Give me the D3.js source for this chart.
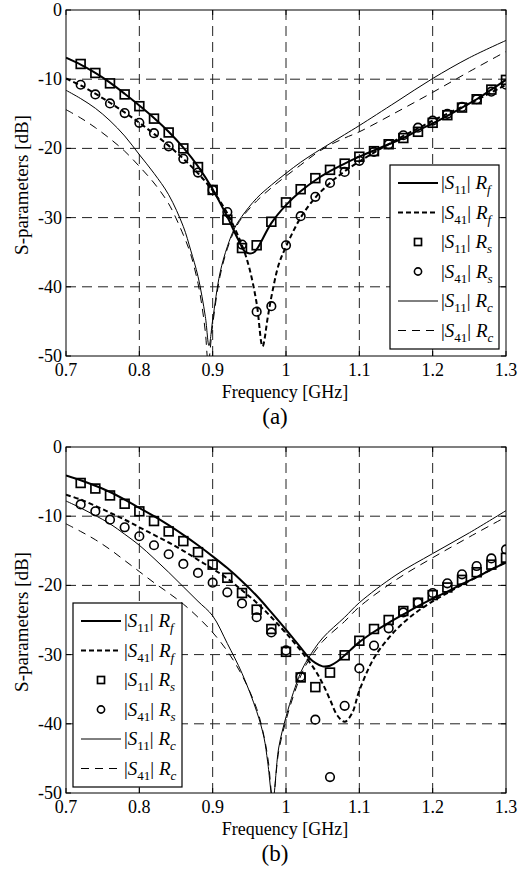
<!DOCTYPE html>
<html>
<head>
<meta charset="utf-8">
<script src="https://cdn.jsdelivr.net/npm/d3@7"></script>
<style>
  body { margin: 0; background: #fff; }
</style>
</head>
<body>
<svg width="523" height="870" font-family="'Liberation Serif', Tinos, 'Times New Roman', 'DejaVu Serif', serif"></svg>
<script>
// measured points (Rs): 0.72 .. 1.30 GHz, step 0.02
const fMeas = [0.72,0.74,0.76,0.78,0.80,0.82,0.84,0.86,0.88,0.90,0.92,0.94,0.96,0.98,1.00,
               1.02,1.04,1.06,1.08,1.10,1.12,1.14,1.16,1.18,1.20,1.22,1.24,1.26,1.28,1.30];

// panel (a)
const sqA = [-7.8,-9.1,-10.6,-12.2,-13.9,-15.7,-17.7,-20.0,-22.7,-26.0,-30.3,-34.4,-34.0,-30.6,-27.8,
             -25.9,-24.3,-23.1,-22.2,-21.2,-20.4,-19.4,-18.5,-17.6,-16.3,-15.2,-14.1,-12.9,-11.5,-10.1];
const ciA = [-10.8,-12.2,-13.5,-14.9,-16.3,-17.8,-19.7,-21.5,-23.5,-26.0,-29.2,-33.9,-43.6,-42.8,-34.0,
             -29.8,-27.0,-25.0,-23.4,-21.8,-20.5,-19.4,-18.1,-17.0,-16.0,-15.0,-14.0,-12.9,-11.8,-10.8];
const rfS11A = [[0.70,-6.9],[0.72,-7.9],[0.74,-9.1],[0.76,-10.5],[0.78,-12.1],[0.80,-13.8],[0.82,-15.6],
  [0.84,-17.6],[0.86,-19.9],[0.88,-22.6],[0.90,-25.9],[0.92,-29.9],[0.935,-33.2],[0.945,-35.0],[0.955,-35.1],
  [0.96,-34.6],[0.98,-30.8],[1.00,-28.2],[1.02,-26.2],[1.04,-24.6],[1.06,-23.3],[1.08,-22.2],[1.10,-21.2],
  [1.12,-20.3],[1.14,-19.4],[1.16,-18.5],[1.18,-17.4],[1.20,-16.4],[1.22,-15.3],[1.24,-14.1],[1.26,-12.9],
  [1.28,-11.5],[1.30,-10.1]];
const rfS41A = [[0.70,-9.9],[0.72,-10.9],[0.74,-12.1],[0.76,-13.4],[0.78,-14.8],[0.80,-16.3],[0.82,-17.9],
  [0.84,-19.6],[0.86,-21.5],[0.88,-23.6],[0.90,-26.1],[0.92,-29.4],[0.94,-34.0],[0.95,-37.3],[0.96,-42.4],
  [0.968,-48.6],[0.975,-44.5],[0.98,-41.5],[0.99,-36.8],[1.00,-34.2],[1.02,-30.0],[1.04,-27.1],[1.06,-25.0],
  [1.08,-23.3],[1.10,-21.9],[1.12,-20.6],[1.14,-19.4],[1.16,-18.2],[1.18,-17.1],[1.20,-16.0],[1.22,-15.0],
  [1.24,-14.0],[1.26,-13.0],[1.28,-11.9],[1.30,-10.8]];
const rcS11A = [[0.70,-11.6],[0.72,-12.8],[0.74,-14.2],[0.76,-16.0],[0.78,-18.2],[0.80,-20.9],[0.82,-23.6],
  [0.84,-26.7],[0.86,-31.3],[0.87,-34.7],[0.88,-38.5],[0.89,-44.3],[0.895,-48.5],[0.90,-44.8],[0.91,-38.0],
  [0.92,-34.2],[0.93,-31.5],[0.94,-29.8],[0.96,-27.2],[0.98,-25.3],[1.00,-23.6],[1.02,-22.0],[1.04,-20.6],
  [1.06,-19.3],[1.08,-18.0],[1.10,-16.7],[1.15,-13.3],[1.20,-9.9],[1.25,-6.9],[1.30,-4.4]];
const rcS41A = [[0.70,-14.4],[0.72,-15.6],[0.74,-17.0],[0.76,-18.6],[0.78,-20.4],[0.80,-22.6],[0.82,-25.0],
  [0.84,-28.0],[0.86,-32.5],[0.87,-35.3],[0.88,-39.5],[0.885,-42.5],[0.89,-46.5],[0.894,-51.0],[0.90,-45.5],
  [0.91,-38.5],[0.92,-34.5],[0.93,-31.8],[0.94,-30.0],[0.96,-27.6],[0.98,-25.7],[1.00,-24.0],[1.02,-22.4],
  [1.04,-20.8],[1.06,-19.5],[1.08,-18.5],[1.10,-17.6],[1.15,-14.8],[1.20,-11.9],[1.25,-8.9],[1.30,-6.0]];

// panel (b)
const sqB = [-5.2,-6.0,-7.0,-8.2,-9.3,-10.7,-12.2,-13.6,-15.2,-17.0,-18.9,-21.1,-23.5,-26.3,-29.6,
             -33.3,-34.7,-32.6,-30.1,-28.0,-26.3,-25.0,-23.7,-22.5,-21.4,-20.3,-19.2,-18.1,-17.0,-16.0];
const ciB = [-8.3,-9.3,-10.5,-11.6,-12.9,-14.2,-15.5,-16.9,-18.2,-19.6,-21.0,-22.6,-24.6,-26.8,-29.4,
             -33.2,-39.4,-47.7,-37.4,-32.0,-28.7,-26.2,-23.9,-22.5,-21.1,-19.7,-18.4,-17.2,-16.1,-14.8];
const rfS11B = [[0.70,-4.1],[0.72,-4.8],[0.74,-5.6],[0.76,-6.5],[0.78,-7.6],[0.80,-8.8],[0.82,-10.0],
  [0.84,-11.3],[0.86,-12.7],[0.88,-14.2],[0.90,-15.8],[0.92,-17.5],[0.94,-19.4],[0.96,-21.5],[0.98,-23.9],
  [1.00,-26.4],[1.02,-29.0],[1.03,-30.3],[1.04,-31.2],[1.05,-31.7],[1.06,-31.6],[1.07,-31.0],[1.08,-30.1],
  [1.10,-28.2],[1.12,-26.7],[1.14,-25.4],[1.16,-24.2],[1.18,-23.0],[1.20,-21.9],[1.22,-20.9],[1.24,-19.8],
  [1.26,-18.8],[1.28,-17.7],[1.30,-16.7]];
const rfS41B = [[0.70,-6.9],[0.72,-7.6],[0.74,-8.5],[0.76,-9.5],[0.78,-10.5],[0.80,-11.6],[0.82,-12.7],
  [0.84,-13.8],[0.86,-15.0],[0.88,-16.3],[0.90,-17.6],[0.92,-19.0],[0.94,-20.7],[0.96,-22.5],[0.98,-24.6],
  [1.00,-26.9],[1.02,-29.4],[1.04,-32.3],[1.05,-34.2],[1.06,-36.5],[1.07,-38.8],[1.08,-39.7],[1.09,-38.5],
  [1.10,-35.2],[1.12,-30.5],[1.14,-27.6],[1.16,-25.4],[1.18,-23.7],[1.20,-22.3],[1.22,-21.1],[1.24,-19.9],
  [1.26,-18.8],[1.28,-17.7],[1.30,-16.6]];
const rcS11B = [[0.70,-7.8],[0.72,-8.8],[0.74,-9.9],[0.76,-11.1],[0.78,-12.6],[0.80,-14.2],[0.82,-16.1],
  [0.84,-18.1],[0.86,-20.2],[0.88,-22.3],[0.90,-24.4],[0.92,-28.4],[0.94,-32.7],[0.96,-38.2],[0.97,-42.0],
  [0.975,-45.5],[0.982,-51.0],[0.99,-43.5],[1.00,-39.0],[1.01,-35.5],[1.02,-32.6],[1.03,-30.6],[1.05,-27.6],
  [1.08,-24.6],[1.10,-22.5],[1.15,-18.5],[1.20,-15.4],[1.25,-12.4],[1.30,-9.2]];
const rcS41B = [[0.70,-11.1],[0.72,-12.2],[0.74,-13.4],[0.76,-14.8],[0.78,-16.4],[0.80,-18.0],[0.82,-19.6],
  [0.84,-21.1],[0.86,-22.7],[0.88,-24.6],[0.90,-26.8],[0.92,-29.5],[0.94,-33.0],[0.96,-37.8],[0.97,-41.8],
  [0.976,-45.5],[0.982,-51.0],[0.99,-44.0],[1.00,-39.5],[1.01,-36.0],[1.02,-33.1],[1.03,-31.0],[1.05,-28.1],
  [1.08,-25.2],[1.10,-23.1],[1.15,-19.2],[1.20,-16.0],[1.25,-13.0],[1.30,-10.1]];

const xTicks = [0.7, 0.8, 0.9, 1.0, 1.1, 1.2, 1.3];
const xTickLabels = ["0.7", "0.8", "0.9", "1", "1.1", "1.2", "1.3"];
const yTicks = [0, -10, -20, -30, -40, -50];
const legendLabels = [["11", "f"], ["41", "f"], ["11", "s"], ["41", "s"], ["11", "c"], ["41", "c"]];

const svg = d3.select("svg");
const x0 = 66, x1 = 506;

const styles = [
  { kind: "line", width: 2, dash: null },
  { kind: "line", width: 2, dash: "5,3" },
  { kind: "square" },
  { kind: "circle" },
  { kind: "line", width: 1, dash: null },
  { kind: "line", width: 1, dash: "8,6" }
];

function drawPanel(top, id, d, legendBox, tag) {
  const bottom = top + 346;
  const x = d3.scaleLinear().domain([0.7, 1.3]).range([x0, x1]);
  const y = d3.scaleLinear().domain([-50, 0]).range([bottom, top]);
  const g = svg.append("g");

  svg.append("clipPath").attr("id", "clip" + id)
    .append("rect").attr("x", x0).attr("y", top).attr("width", x1 - x0).attr("height", bottom - top);

  // grid
  g.selectAll(".gx").data(xTicks.slice(1, -1)).enter().append("line")
    .attr("x1", f => x(f)).attr("x2", f => x(f)).attr("y1", top).attr("y2", bottom)
    .attr("stroke", "#222").attr("stroke-width", 1).attr("stroke-dasharray", "10,6");
  g.selectAll(".gy").data(yTicks.slice(1, -1)).enter().append("line")
    .attr("x1", x0).attr("x2", x1).attr("y1", v => y(v)).attr("y2", v => y(v))
    .attr("stroke", "#222").attr("stroke-width", 1).attr("stroke-dasharray", "10,6");

  // ticks
  xTicks.forEach(f => {
    g.append("line").attr("x1", x(f)).attr("x2", x(f)).attr("y1", bottom).attr("y2", bottom - 5).attr("stroke", "#000");
    g.append("line").attr("x1", x(f)).attr("x2", x(f)).attr("y1", top).attr("y2", top + 5).attr("stroke", "#000");
  });
  yTicks.forEach(v => {
    g.append("line").attr("x1", x0).attr("x2", x0 + 5).attr("y1", y(v)).attr("y2", y(v)).attr("stroke", "#000");
    g.append("line").attr("x1", x1).attr("x2", x1 - 5).attr("y1", y(v)).attr("y2", y(v)).attr("stroke", "#000");
  });

  const line = d3.line().x(p => x(p[0])).y(p => y(p[1])).curve(d3.curveCatmullRom);
  const lines = [d.rfS11, d.rfS41, null, null, d.rcS11, d.rcS41];
  const plot = g.append("g").attr("clip-path", `url(#clip${id})`);
  // thin lines first, then thick
  [4, 5, 0, 1].forEach(i => {
    plot.append("path").attr("d", line(lines[i])).attr("fill", "none")
      .attr("stroke", "#000").attr("stroke-width", styles[i].width)
      .attr("stroke-dasharray", styles[i].dash);
  });

  plot.selectAll(".sq").data(fMeas.map((f, i) => [f, d.sq[i]])).enter().append("rect")
    .attr("x", p => x(p[0]) - 4.4).attr("y", p => y(p[1]) - 4.4).attr("width", 8.8).attr("height", 8.8)
    .attr("fill", "none").attr("stroke", "#000").attr("stroke-width", 1.7);
  plot.selectAll(".ci").data(fMeas.map((f, i) => [f, d.ci[i]])).enter().append("circle")
    .attr("cx", p => x(p[0])).attr("cy", p => y(p[1])).attr("r", 4.3)
    .attr("fill", "none").attr("stroke", "#000").attr("stroke-width", 1.6);

  // frame
  g.append("rect").attr("x", x0).attr("y", top).attr("width", x1 - x0).attr("height", bottom - top)
    .attr("fill", "none").attr("stroke", "#000").attr("stroke-width", 1);

  // tick labels
  g.selectAll(".xl").data(xTicks).enter().append("text")
    .attr("x", f => x(f)).attr("y", bottom + 20).attr("text-anchor", "middle")
    .attr("font-size", 18).text((f, i) => xTickLabels[i]);
  g.selectAll(".yl").data(yTicks).enter().append("text")
    .attr("x", 62).attr("y", v => y(v)).attr("dy", "0.33em").attr("text-anchor", "end")
    .attr("font-size", 18).text(v => v);

  g.append("text").attr("x", 285).attr("y", bottom + 42).attr("text-anchor", "middle")
    .attr("font-size", 18).text("Frequency [GHz]");
  g.append("text").attr("transform", `translate(28,${(top + bottom) / 2 + 2}) rotate(-90)`)
    .attr("text-anchor", "middle").attr("font-size", 19).text("S-parameters [dB]");
  g.append("text").attr("x", 275).attr("y", bottom + 68).attr("text-anchor", "middle")
    .attr("font-size", 23).text(tag);

  // legend
  const lg = g.append("g");
  lg.append("rect").attr("x", legendBox.x).attr("y", legendBox.y).attr("width", 109).attr("height", 184)
    .attr("fill", "#fff").attr("stroke", "#000").attr("stroke-width", 1.2);
  legendLabels.forEach((lab, i) => {
    const ly = legendBox.y + 18 + i * 29.5;
    const s = styles[i];
    const lx = legendBox.x;
    if (s.kind === "line") {
      lg.append("line").attr("x1", lx + 8).attr("x2", lx + 48).attr("y1", ly).attr("y2", ly)
        .attr("stroke", "#000").attr("stroke-width", s.width).attr("stroke-dasharray", s.dash);
    } else if (s.kind === "square") {
      lg.append("rect").attr("x", lx + 28 - 3.5).attr("y", ly - 3.5).attr("width", 7).attr("height", 7)
        .attr("fill", "none").attr("stroke", "#000").attr("stroke-width", 1.7);
    } else {
      lg.append("circle").attr("cx", lx + 28).attr("cy", ly).attr("r", 3.6)
        .attr("fill", "none").attr("stroke", "#000").attr("stroke-width", 1.6);
    }
    const t = lg.append("text").attr("x", lx + 51).attr("y", ly + 6).attr("font-size", 19);
    t.append("tspan").text("|");
    t.append("tspan").attr("font-style", "italic").text("S");
    t.append("tspan").attr("font-size", 13).attr("dy", 5).text(lab[0]);
    t.append("tspan").attr("dy", -5).text("| ");
    t.append("tspan").attr("font-style", "italic").text("R");
    t.append("tspan").attr("font-size", 13).attr("font-style", "italic").attr("dy", 5).text(lab[1]);
  });
}

drawPanel(10, "a",
  { sq: sqA, ci: ciA, rfS11: rfS11A, rfS41: rfS41A, rcS11: rcS11A, rcS41: rcS41A },
  { x: 390, y: 165 }, "(a)");
drawPanel(447, "b",
  { sq: sqB, ci: ciB, rfS11: rfS11B, rfS41: rfS41B, rcS11: rcS11B, rcS41: rcS41B },
  { x: 73, y: 603 }, "(b)");
</script>
</body>
</html>
